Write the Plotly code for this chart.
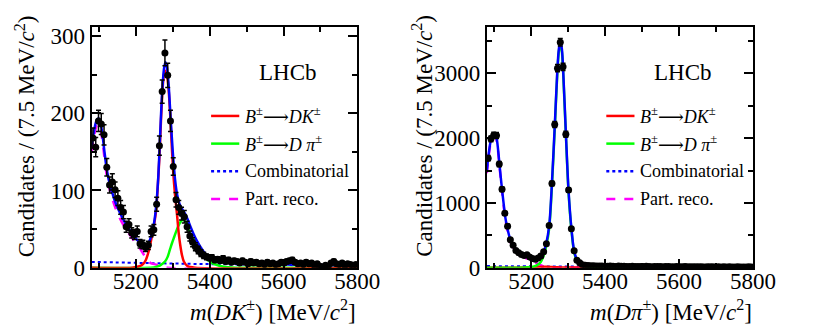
import numpy as np
import plotly.graph_objects as go

W, H = 814, 329
FONT = "'Liberation Serif', 'Times New Roman', Times, 'DejaVu Serif', serif"

# binning: 96 bins of 7.5 MeV between 5080 and 5800
mass_lo, mass_hi, bin_width = 5080, 5800, 7.5
bin_centres = mass_lo + bin_width / 2 + bin_width * np.arange(96)

# ---------------- B -> DK sample (left) ----------------
dk_counts = [168, 156, 190, 186, 172, 130, 107, 111, 101, 90,
             78, 72, 53, 56, 45, 43, 47, 31, 30, 26,
             29, 47, 49, 82, 158, 228, 278, 249, 190, 131,
             88, 78, 70, 66, 53, 41, 33, 27, 23, 19,
             16, 14, 13, 13, 10, 11, 9, 12, 8, 10,
             7, 9, 8, 6, 9, 7, 5, 8, 6, 7,
             5, 6, 4, 7, 5, 6, 4, 5, 7, 6,
             8, 9, 10, 7, 5, 6, 4, 7, 5, 6,
             3, 5, 2, 1, 3, 2, 6, 8, 5, 4,
             6, 3, 5, 4, 3, 4]

dk_total_m = [5080, 5085, 5090, 5095, 5100, 5105, 5110, 5115, 5120, 5126, 5132, 5138,
              5145, 5153, 5162, 5171, 5180, 5190, 5198, 5207, 5215, 5222, 5228, 5235,
              5241, 5246, 5250, 5256, 5261, 5266, 5271, 5276, 5280, 5284, 5289, 5294,
              5300, 5306, 5312, 5318, 5325, 5332, 5340, 5348, 5356, 5365, 5375, 5385,
              5395, 5405, 5420, 5440, 5470, 5500, 5600, 5700, 5800]
dk_total = [158, 172, 185, 192, 193, 186, 170, 150, 131, 115, 104, 94,
            84, 75, 66, 58, 51, 44, 39, 34, 31, 29, 29, 33,
            40, 50, 60, 85, 120, 175, 225, 257, 266, 260, 235, 195,
            150, 115, 94, 83, 76, 71, 63, 53, 44, 35, 27, 20,
            15, 12, 9, 7, 5.5, 5, 4, 3.5, 3]

dk_sig_m = [5080, 5190, 5210, 5220, 5227, 5234, 5241, 5248, 5255, 5260, 5264, 5268,
            5272, 5276, 5280, 5284, 5288, 5293, 5297, 5301, 5306, 5312, 5316, 5320,
            5325, 5330, 5340, 5360, 5800]
dk_sig = [0, 0, 2, 5, 10, 20, 35, 52, 75, 110, 145, 190,
          228, 250, 255, 250, 235, 198, 160, 125, 95, 66, 45, 30,
          16, 8, 2, 0, 0]

dk_mis_m = [5080, 5240, 5255, 5266, 5279, 5286, 5292, 5298, 5304, 5310, 5316, 5322,
            5329, 5335, 5340, 5345, 5352, 5358, 5363, 5370, 5378, 5385, 5395, 5407,
            5420, 5435, 5450, 5470, 5800]
dk_mis = [0, 0, 1, 3, 8, 14, 23, 32, 40, 48, 55, 60,
          62, 59, 53, 46, 40, 34, 29, 24, 18, 14, 10, 6,
          3.5, 1.5, 0.5, 0, 0]

dk_comb_m = [5080, 5200, 5300, 5400, 5500, 5600, 5700, 5800]
dk_comb = [7.5, 6.3, 5.4, 4.6, 4.0, 3.4, 3.0, 2.6]

dk_part_m = [5080, 5085, 5090, 5095, 5100, 5105, 5110, 5115, 5120, 5126, 5132, 5145,
             5162, 5180, 5198, 5215, 5225, 5232, 5240, 5255, 5270, 5285, 5800]
dk_part = [150, 165, 178, 185, 186, 178, 162, 142, 123, 107, 96, 77,
           59, 45, 33, 22, 14, 9, 6, 4, 2, 0, 0]

# ---------------- B -> Dpi sample (right) ----------------
dpi_counts = [1690, 1990, 2045, 2040, 1600, 1210, 840, 640, 430, 345,
              265, 230, 205, 190, 200, 165, 140, 130, 150, 180,
              245, 370, 650, 1300, 2210, 3080, 3480, 3100, 2060, 1200,
              600, 260, 115, 75, 45, 38, 33, 30, 28, 26,
              25, 27, 24, 22, 25, 23, 20, 26, 21, 22,
              19, 20, 23, 18, 20, 17, 19, 21, 18, 16,
              19, 17, 18, 15, 17, 19, 16, 14, 17, 15,
              16, 18, 14, 15, 13, 16, 14, 15, 12, 14,
              13, 15, 12, 14, 11, 13, 12, 14, 11, 12,
              13, 10, 12, 11, 13, 10]

dpi_total_m = [5080, 5084, 5090, 5095, 5100, 5104, 5108, 5112, 5116, 5121, 5126, 5130,
               5136, 5143, 5150, 5158, 5166, 5173, 5181, 5188, 5196, 5203, 5211, 5218,
               5226, 5234, 5241, 5249, 5256, 5264, 5271, 5275, 5279, 5283, 5286, 5294,
               5301, 5309, 5316, 5324, 5331, 5340, 5355, 5370, 5400, 5450, 5500, 5600,
               5700, 5800]
dpi_total = [1480, 1700, 1940, 2030, 2060, 2050, 1950, 1740, 1500, 1220, 970, 780,
             600, 445, 350, 280, 235, 210, 190, 175, 160, 150, 145, 155,
             185, 250, 380, 660, 1290, 2210, 3070, 3380, 3490, 3380, 3120, 2060,
             1200, 600, 265, 120, 78, 55, 40, 33, 28, 24, 22, 19,
             16, 14]

dpi_mis_m = [5080, 5150, 5190, 5210, 5225, 5240, 5255, 5270, 5290, 5320, 5360, 5800]
dpi_mis = [0, 0, 3, 8, 12, 13, 10, 6, 3, 1, 0, 0]

dpi_sig_m = [5080, 5170, 5190, 5205, 5215, 5225, 5232, 5241, 5249, 5256, 5264, 5271,
             5275, 5279, 5283, 5286, 5294, 5301, 5309, 5316, 5324, 5331, 5340, 5355,
             5370, 5400, 5450, 5800]
dpi_sig = [0, 0, 5, 15, 35, 80, 160, 340, 620, 1240, 2170, 3030,
           3340, 3450, 3340, 3080, 2030, 1170, 575, 245, 100, 58, 32, 15,
           8, 3, 0, 0]

dpi_comb_m = [5080, 5200, 5300, 5400, 5500, 5600, 5700, 5800]
dpi_comb = [25, 21, 18, 15, 13, 11, 10, 9]

dpi_part_m = [5080, 5084, 5090, 5095, 5100, 5104, 5108, 5112, 5116, 5121, 5126, 5130,
              5136, 5143, 5150, 5158, 5166, 5173, 5181, 5188, 5196, 5203, 5211, 5218,
              5226, 5234, 5242, 5255, 5270, 5800]
dpi_part = [1460, 1670, 1910, 2000, 2030, 2020, 1920, 1710, 1470, 1190, 940, 750,
            570, 415, 320, 250, 205, 180, 160, 140, 118, 98, 80, 60,
            40, 20, 6, 1, 0, 0]

ARROW = "⟶"
legend_labels = ["<i>B</i><sup>±</sup>" + ARROW + "<i>DK</i><sup>±</sup>",
                 "<i>B</i><sup>±</sup>" + ARROW + "<i>D π</i><sup>±</sup>",
                 "Combinatorial",
                 "Part. reco."]
legend_colors = ["#ff0000", "#00ff00", "#0000ff", "#ff00ff"]
legend_dash = ["solid", "solid", "dot", "dash"]


def px(x):
    return x / W


def py(y):
    return 1 - y / H


fig = go.Figure()


def add_panel(xa, ya, comb, part, mis, sig, total, counts):
    # components first, total next, data on top
    fig.add_trace(go.Scatter(x=comb[0], y=comb[1], mode="lines", xaxis=xa, yaxis=ya,
                             line=dict(color="#0000ff", width=2, dash="dot", shape="spline")))
    fig.add_trace(go.Scatter(x=part[0], y=part[1], mode="lines", xaxis=xa, yaxis=ya,
                             line=dict(color="#ff00ff", width=2.5, dash="dash", shape="spline")))
    fig.add_trace(go.Scatter(x=mis[0], y=mis[1], mode="lines", xaxis=xa, yaxis=ya,
                             line=dict(color=mis[2], width=2.5, shape="spline", smoothing=0.8)))
    fig.add_trace(go.Scatter(x=sig[0], y=sig[1], mode="lines", xaxis=xa, yaxis=ya,
                             line=dict(color=sig[2], width=2.5, shape="spline", smoothing=0.8)))
    fig.add_trace(go.Scatter(x=total[0], y=total[1], mode="lines", xaxis=xa, yaxis=ya,
                             line=dict(color="#0000ff", width=2.5, shape="spline", smoothing=0.8)))
    fig.add_trace(go.Scatter(x=bin_centres, y=counts, mode="markers", xaxis=xa, yaxis=ya,
                             marker=dict(color="black", size=7),
                             error_y=dict(type="sqrt", color="black", thickness=1.5, width=2.5)))


# left: DK sample (red = signal, green = Dpi misID)
add_panel("x", "y", (dk_comb_m, dk_comb), (dk_part_m, dk_part),
          (dk_mis_m, dk_mis, "#00ff00"), (dk_sig_m, dk_sig, "#ff0000"),
          (dk_total_m, dk_total), dk_counts)
# right: Dpi sample (green = signal, red = DK misID)
add_panel("x2", "y2", (dpi_comb_m, dpi_comb), (dpi_part_m, dpi_part),
          (dpi_mis_m, dpi_mis, "#ff0000"), (dpi_sig_m, dpi_sig, "#00ff00"),
          (dpi_total_m, dpi_total), dpi_counts)

axis_common = dict(showline=True, linecolor="black", linewidth=2, mirror="allticks",
                   ticks="inside", ticklen=9, tickwidth=1.5, tickcolor="black",
                   showgrid=False, zeroline=False,
                   tickfont=dict(family=FONT, size=23, color="black"),
                   minor=dict(ticks="inside", ticklen=5, tickwidth=1.5, tickcolor="black"))

left_dom = [px(86), px(359.5)]
right_dom = [px(492.7), px(766.7)]
y_dom = [py(270), py(17.5)]

fig.update_layout(
    width=W, height=H, margin=dict(l=0, r=0, t=0, b=0),
    paper_bgcolor="white", plot_bgcolor="white", showlegend=False,
    font=dict(family=FONT, color="black"),
    xaxis=dict(axis_common, domain=left_dom, anchor="y", range=[mass_lo, mass_hi],
               dtick=200, ticklabelstandoff=-8, minor=dict(axis_common["minor"], dtick=100)),
    yaxis=dict(axis_common, domain=y_dom, anchor="x", range=[0, 312],
               dtick=100, minor=dict(axis_common["minor"], dtick=50)),
    xaxis2=dict(axis_common, domain=right_dom, anchor="y2", range=[mass_lo, mass_hi],
                dtick=200, ticklabelstandoff=-8, minor=dict(axis_common["minor"], dtick=100)),
    yaxis2=dict(axis_common, domain=y_dom, anchor="x2", range=[0, 3720],
                dtick=1000, minor=dict(axis_common["minor"], dtick=500)),
)

annotations = []
shapes = []
title_font = dict(family=FONT, size=23, color="black")
panels = [(86, 18, "<i>m</i>(<i>DK</i><sup>±</sup>) [MeV/<i>c</i><sup>2</sup>]", 359.5),
          (492.7, 427, "<i>m</i>(<i>Dπ</i><sup>±</sup>) [MeV/<i>c</i><sup>2</sup>]", 766.7)]
for x0, ytitle_x, xtitle, x1 in panels:
    annotations.append(dict(text="Candidates / (7.5 MeV/<i>c</i><sup>2</sup>)",
                            xref="paper", yref="paper", x=px(ytitle_x), y=py(3),
                            xanchor="center", yanchor="top", textangle=-90,
                            showarrow=False, font=title_font))
    annotations.append(dict(text=xtitle, xref="paper", yref="paper", x=px(x1 + 1),
                            y=py(315), xanchor="right", yanchor="middle",
                            showarrow=False, font=title_font))
    annotations.append(dict(text="LHCb", xref="paper", yref="paper", x=px(x0 + 202),
                            y=py(66), xanchor="center", yanchor="middle", showarrow=False,
                            font=dict(family=FONT, size=23, color="black")))
    for i, (lab, col, dash) in enumerate(zip(legend_labels, legend_colors, legend_dash)):
        yy = 111 + 29 * i
        shapes.append(dict(type="line", xref="paper", yref="paper",
                           x0=px(x0 + 123), x1=px(x0 + 152), y0=py(yy), y1=py(yy),
                           line=dict(color=col, width=2.5, dash=dash)))
        annotations.append(dict(text=lab, xref="paper", yref="paper", x=px(x0 + 156),
                                y=py(yy), xanchor="left", yanchor="middle",
                                showarrow=False,
                                font=dict(family=FONT, size=18, color="black")))

fig.update_layout(annotations=annotations, shapes=shapes)
fig.write_html("out.html")
